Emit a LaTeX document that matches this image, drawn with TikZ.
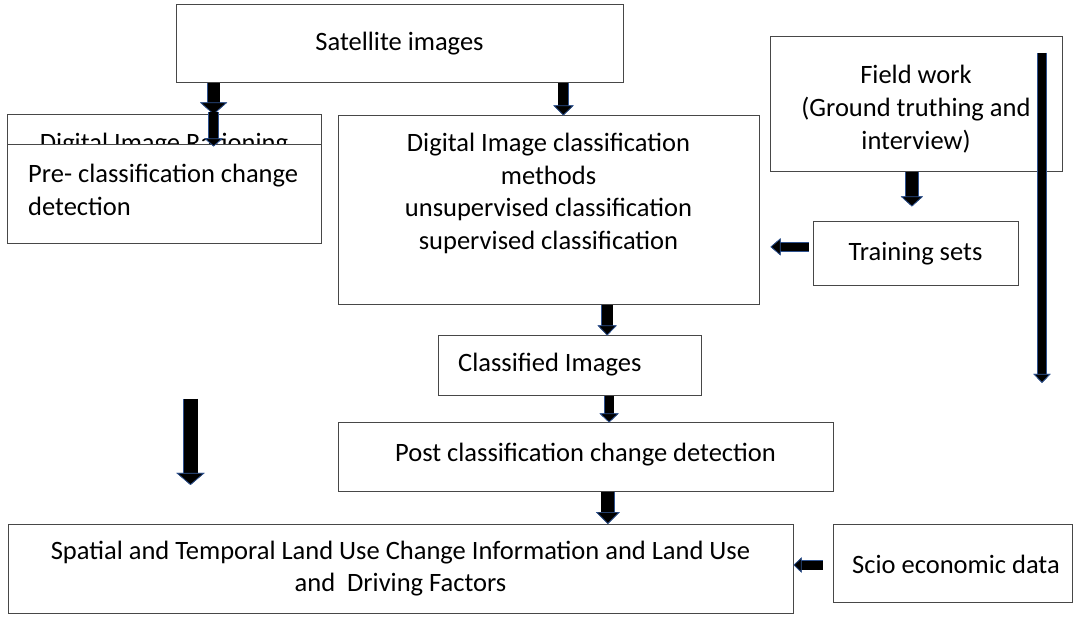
\documentclass[tikz,border=0pt]{standalone}
\usepackage{fontspec}
\setmainfont{Carlito}
\usetikzlibrary{arrows.meta,calc}
\definecolor{outl}{RGB}{47,82,143}
\begin{document}
\begin{tikzpicture}[x=1pt,y=-1pt,
  box/.style={draw=black!72, line width=1pt, fill=white, inner sep=0pt, rectangle},
  txt/.style={font=\fontsize{26.5}{32.7}\selectfont, inner sep=0pt, align=center},
  barrow/.style n args={3}{line width=#1, draw=black,
     -{Triangle[width=#2 0 0, length=#3 0 0, line width=0.7pt, color=outl, fill=black]},
     preaction={draw=outl, line width=#1+1.4pt,
       -{Triangle[width=#2 0 0, length=#3 0 0, line width=0.7pt, color=outl, fill=black]}}}
]
\useasboundingbox (0,0) rectangle (1074,617);

% boxes
\node[box, minimum width=447pt, minimum height=78pt, txt] (sat) at (399.5,44) {Satellite images};
\node[box, minimum width=314pt, minimum height=85pt] (rat) at (164,157.5) {};
\node[txt, anchor=base] (ratt) at (164,152) {Digital Image Rationing};
\node[box, minimum width=314pt, minimum height=99pt] (pre) at (164,194.5) {};
\node[txt, align=left, anchor=west] (pret) at (28,190) {Pre- classification change\\detection};
\node[box, minimum width=421pt, minimum height=189pt] (dic) at (548.5,210.5) {};
\node[txt] (dict) at (548.5,193.5) {Digital Image classification\\methods\\unsupervised classification\\supervised classification};
\node[box, minimum width=292pt, minimum height=135pt] (field) at (916,104.5) {};
\node[txt] (fieldt) at (916,109) {Field work\\(Ground truthing and\\interview)};
\node[box, txt, minimum width=205pt, minimum height=64pt] (train) at (915.5,254) {Training sets};
\node[box, minimum width=263pt, minimum height=60pt] (cls) at (569.5,366) {};
\node[txt, anchor=base west] (clst) at (458,372) {Classified Images};
\node[box, minimum width=495pt, minimum height=68pt] (post) at (585.5,457) {};
\node[txt, anchor=base] (postt) at (585.5,461) {Post classification change detection};
\node[box, txt, font=\fontsize{26.5}{32}\selectfont, minimum width=785pt, minimum height=89pt] (spat) at (400.5,569) {Spatial and Temporal Land Use Change Information and Land Use\\and\ \ Driving Factors};
\node[box, minimum width=239pt, minimum height=78pt] (scio) at (952.5,563) {};
\node[txt] (sciot) at (956,564) {Scio economic data};

% arrow anchor points
\path ($(sat.south west)!0.085!(sat.south east)$) coordinate (a1)
      ($(sat.south west)!0.866!(sat.south east)$) coordinate (a2)
      ($(field.south west)!0.486!(field.south east)$) coordinate (a3)
      ($(train.north west)!0.39!(train.south west)$) coordinate (a4)
      ($(dic.south west)!0.639!(dic.south east)$) coordinate (a6)
      ($(cls.south west)!0.650!(cls.south east)$) coordinate (a7)
      ($(post.south west)!0.545!(post.south east)$) coordinate (a8)
      ($(scio.north west)!0.526!(scio.south west)$) coordinate (a10);
\coordinate (a5s) at (1042,53);
\coordinate (a5e) at (1042,383);
\coordinate (a9s) at (190.5,399);
\coordinate (a9e) at (190.5,485);

% arrows
\draw[barrow={12pt}{27pt}{12pt}] (a1) -- (a1 |- rat.north);
\draw[barrow={9pt}{18pt}{8pt}] ([yshift=2pt]a1 |- rat.north) -- ([yshift=-2pt]a1 |- pre.north);
\draw[barrow={10pt}{20pt}{10pt}] (a2) -- (a2 |- dic.north);
\draw[barrow={12pt}{22pt}{10pt}, shorten >=15pt] (a3) -- (a3 |- train.north);
\draw[barrow={8pt}{17pt}{10pt}, shorten <=4pt, shorten >=11pt] (a4) -- (a4 -| dic.east);
\draw[barrow={8pt}{17pt}{9pt}] (a5s) -- (a5e);
\draw[barrow={11pt}{19pt}{10pt}] (a6) -- (a6 |- cls.north);
\draw[barrow={9pt}{19pt}{9pt}] (a7) -- (a7 |- post.north);
\draw[barrow={13pt}{24pt}{12pt}] (a8) -- (a8 |- spat.north);
\draw[barrow={14pt}{28pt}{12pt}] (a9s) -- (a9e);
\draw[barrow={9pt}{15pt}{8pt}, shorten <=10pt] (a10) -- (a10 -| spat.east);
\end{tikzpicture}
\end{document}
